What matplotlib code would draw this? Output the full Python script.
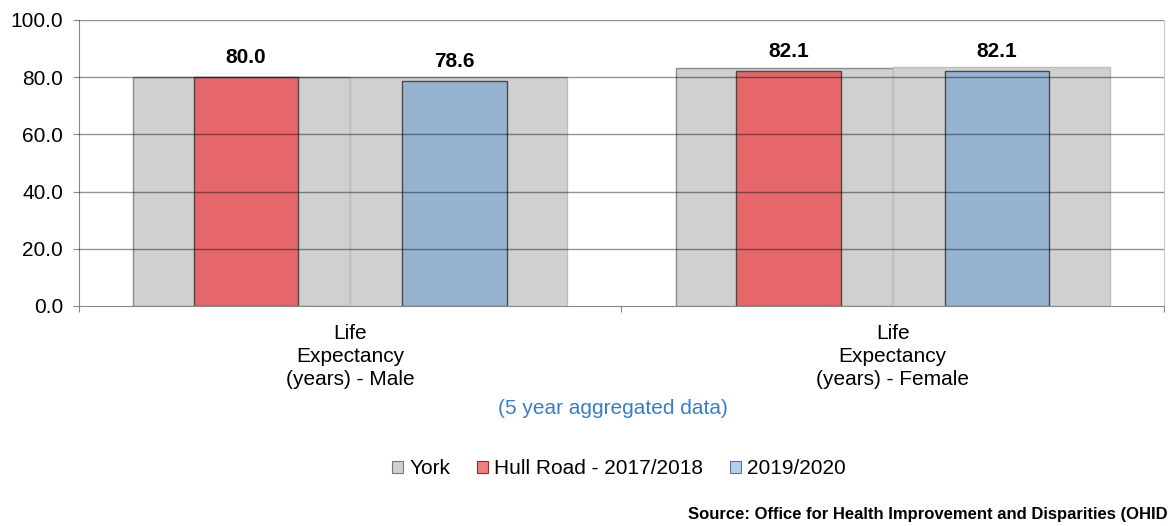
import matplotlib.pyplot as plt
from matplotlib.patches import Patch
import numpy as np

plt.rcParams['font.family'] = ['Liberation Sans', 'DejaVu Sans']

# Life expectancy, Hull Road ward vs York
categories = ['Life\nExpectancy\n(years) - Male', 'Life\nExpectancy\n(years) - Female']
york_2017 = [80.2, 83.3]
york_2019 = [80.2, 83.5]
hull_2017 = [80.0, 82.1]
hull_2019 = [78.6, 82.1]
legend_labels = ['York', 'Hull Road - 2017/2018', '2019/2020']
y_ticks = [0, 20, 40, 60, 80, 100]

GREY = '#d0d0d0'
RED = '#e5676a'
BLUE = '#96b4d2'
FS = 15

fig = plt.figure(figsize=(11.68, 5.26), dpi=100)
ax = fig.add_axes([0.0676, 0.4183, 0.9966 - 0.0676, 0.962 - 0.4183])

x = np.arange(len(categories))

# wide York bars behind, narrow Hull Road bars in front
ax.bar(x - 0.2, york_2017, width=0.4, color=GREY, edgecolor='#8c8c8c', linewidth=1, zorder=1)
ax.bar(x + 0.2, york_2019, width=0.4, color=GREY, edgecolor='#bdbdbd', linewidth=1, zorder=1)
ax.bar(x - 0.192, hull_2017, width=0.193, color=RED, edgecolor='#4a4a4a', linewidth=1, zorder=2)
ax.bar(x + 0.192, hull_2019, width=0.193, color=BLUE, edgecolor='#4a4a4a', linewidth=1, zorder=2)

for xs, vals in [(x - 0.192, hull_2017), (x + 0.192, hull_2019)]:
    for xi, v in zip(xs, vals):
        ax.annotate(f'{v:.1f}', (xi, v), xytext=(0, 14), textcoords='offset points',
                    ha='center', va='center', fontsize=FS, fontweight='bold')

ax.set_ylim(0, 100)
ax.set_xlim(-0.5, len(categories) - 0.5)
ax.set_yticks(y_ticks)
ax.set_yticklabels([f'{t:.1f}' for t in y_ticks], fontsize=FS)
ax.tick_params(axis='y', length=4.5, color='#888888', pad=7)
for t in y_ticks[1:]:
    ax.axhline(t, color='black', alpha=0.42, linewidth=1, zorder=3)

# category boundaries as major ticks, names as minor labels
ax.set_xticks(np.arange(len(categories) + 1) - 0.5)
ax.set_xticklabels([])
ax.tick_params(axis='x', which='major', length=4.5, color='#888888')
ax.set_xticks(x, minor=True)
ax.set_xticklabels(categories, minor=True, fontsize=FS)
ax.tick_params(axis='x', which='minor', length=0, pad=13)
plt.setp(ax.get_xticklabels(minor=True), linespacing=1.27)

for side in ['left', 'bottom']:
    ax.spines[side].set_color('#888888')
ax.spines['top'].set_visible(False)
ax.spines['right'].set_color('#c8c8c8')

fig.text(613 / 1168, 1 - 408 / 526, '(5 year aggregated data)', ha='center', va='center',
         fontsize=FS, color='#3d7dbf')

handles = [Patch(facecolor=GREY, edgecolor='#777777', linewidth=0.8),
           Patch(facecolor='#f08080', edgecolor='#8a3030', linewidth=0.8),
           Patch(facecolor='#b4d0ec', edgecolor='#5a7896', linewidth=0.8)]
fig.legend(handles, legend_labels, loc='center', bbox_to_anchor=(619 / 1168, 1 - 469 / 526),
           ncol=3, frameon=False, fontsize=FS, handlelength=0.55, handleheight=0.55,
           handletextpad=0.3, columnspacing=1.25)

# the source line runs past the right edge of the figure
fig.text(688 / 1168, 1 - 515 / 526, 'Source: Office for Health Improvement and Disparities (OHID)',
         ha='left', va='center', fontsize=12, fontweight='bold')

fig.savefig('out.png', dpi=100)
